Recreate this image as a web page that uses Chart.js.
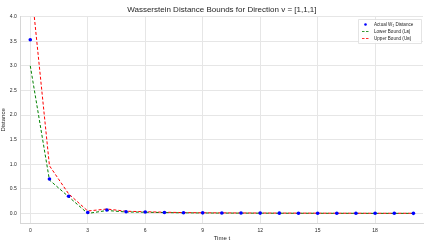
<!DOCTYPE html>
<html>
<head>
<meta charset="utf-8">
<script src="https://cdn.jsdelivr.net/npm/chart.js@4/dist/chart.umd.min.js"></script>
<style>
  html, body { margin: 0; padding: 0; background: #fff; }
  #wrap { width: 427px; height: 242px; position: relative; }
</style>
</head>
<body>
<div id="wrap"><canvas id="chart"></canvas></div>
<script>
// data
var timeSteps = [0,1,2,3,4,5,6,7,8,9,10,11,12,13,14,15,16,17,18,19,20];
var actualW2 = [3.53,0.70,0.35,0.02,0.07,0.035,0.03,0.02,0.015,0.012,0.01,0.008,0.007,0.006,0.005,0.004,0.004,0.003,0.003,0.003,0.002];
var lowerBound = [3.0,0.68,0.34,0.0,0.06,0.03,0.025,0.018,0.013,0.01,0.008,0.007,0.006,0.005,0.004,0.004,0.003,0.003,0.002,0.002,0.002];
var upperBound = [4.8,0.97,0.40,0.05,0.09,0.045,0.035,0.025,0.018,0.014,0.012,0.01,0.009,0.008,0.007,0.006,0.005,0.005,0.004,0.004,0.004];
var xTicks = [0,3,6,9,12,15,18];
var yTicks = [0,0.5,1,1.5,2,2.5,3,3.5,4];
var legendLabels = ["Actual W\u2082 Distance", "Lower Bound (L\u0299)", "Upper Bound (U\u0299)"];

var FONT = "'Liberation Sans', Arial, sans-serif";
var GRID = "#e6e6e6";

function pts(ys){
  return timeSteps.map(function(t,i){ return {x:t, y:ys[i]}; });
}

// legend drawn inside the plot, top right like matplotlib
var innerLegend = {
  id: "innerLegend",
  afterDraw: function(chart){
    var ctx = chart.ctx, a = chart.chartArea;
    var w = 63, h = 24;
    var x0 = Math.round(a.right - 65.5), y0 = Math.round(a.top + 2);
    ctx.save();
    ctx.fillStyle = "rgba(255,255,255,0.85)";
    ctx.strokeStyle = "#dddddd";
    ctx.lineWidth = 0.8;
    ctx.beginPath();
    ctx.rect(x0+0.5, y0+0.5, w, h);
    ctx.fill(); ctx.stroke();
    ctx.font = "4.6px " + FONT;
    ctx.textBaseline = "middle";
    var rows = [y0+5.5, y0+12.5, y0+19.5];
    // blue dot
    ctx.fillStyle = "#0000ff";
    ctx.beginPath(); ctx.arc(x0+7.5, rows[0], 1.3, 0, Math.PI*2); ctx.fill();
    // green + red dashes
    ctx.setLineDash([2.5,1.5]);
    ctx.lineWidth = 0.8;
    ctx.strokeStyle = "#008000";
    ctx.beginPath(); ctx.moveTo(x0+4, rows[1]); ctx.lineTo(x0+12, rows[1]); ctx.stroke();
    ctx.strokeStyle = "#ff0000";
    ctx.beginPath(); ctx.moveTo(x0+4, rows[2]); ctx.lineTo(x0+12, rows[2]); ctx.stroke();
    ctx.setLineDash([]);
    ctx.fillStyle = "#262626";
    for (var i = 0; i < 3; i++) ctx.fillText(legendLabels[i], x0+16, rows[i]);
    ctx.restore();
  }
};

new Chart(document.getElementById("chart"), {
  type: "scatter",
  data: {
    datasets: [{
      label: legendLabels[0],
      data: pts(actualW2),
      showLine: false,
      pointRadius: 1.8,
      pointBackgroundColor: "#0000ff",
      pointBorderWidth: 0,
      order: 0
    }, {
      label: legendLabels[1],
      data: pts(lowerBound),
      showLine: true,
      borderColor: "#008000",
      borderWidth: 1,
      borderDash: [3,2],
      pointRadius: 0,
      tension: 0,
      order: 2
    }, {
      label: legendLabels[2],
      data: pts(upperBound),
      showLine: true,
      borderColor: "#ff0000",
      borderWidth: 1,
      borderDash: [3,2],
      pointRadius: 0,
      tension: 0,
      order: 1
    }]
  },
  options: {
    responsive: true,
    maintainAspectRatio: false,
    animation: false,
    layout: { padding: { right: 3.5, top: 0, left: 0, bottom: 0 } },
    plugins: {
      legend: { display: false },
      tooltip: { enabled: false },
      title: {
        display: true,
        fullSize: false,
        text: "Wasserstein Distance Bounds for Direction v = [1,1,1]",
        color: "#262626",
        font: { size: 8, family: FONT, weight: "normal", lineHeight: 1.2 },
        padding: { top: 5, bottom: 2 }
      }
    },
    scales: {
      x: {
        type: "linear",
        min: -0.5, max: 20.5,
        afterBuildTicks: function(s){ s.ticks = xTicks.map(function(v){ return {value:v}; }); },
        afterFit: function(s){ s.height = 18.7; },
        grid: { color: GRID, lineWidth: 1, drawTicks: false },
        border: { color: "#d6d6d6", width: 1 },
        ticks: { color: "#262626", padding: 4, maxRotation: 0,
          font: { size: 5, family: FONT }, callback: function(v){ return v; } },
        title: { display: true, text: "Time t", color: "#262626", padding: { top: 0, bottom: 0 },
          font: { size: 6, family: FONT } }
      },
      y: {
        min: -0.2, max: 4.0,
        afterBuildTicks: function(s){ s.ticks = yTicks.map(function(v){ return {value:v}; }); },
        afterFit: function(s){ s.width = 20.7; },
        grid: { color: GRID, lineWidth: 1, drawTicks: false },
        border: { color: "#d6d6d6", width: 1 },
        ticks: { color: "#262626", padding: 4,
          font: { size: 5, family: FONT }, callback: function(v){ return v.toFixed(1); } },
        title: { display: true, text: "Distance", color: "#262626", padding: { top: 0, bottom: 2 },
          font: { size: 6, family: FONT } }
      }
    }
  },
  plugins: [innerLegend]
});
</script>
</body>
</html>
